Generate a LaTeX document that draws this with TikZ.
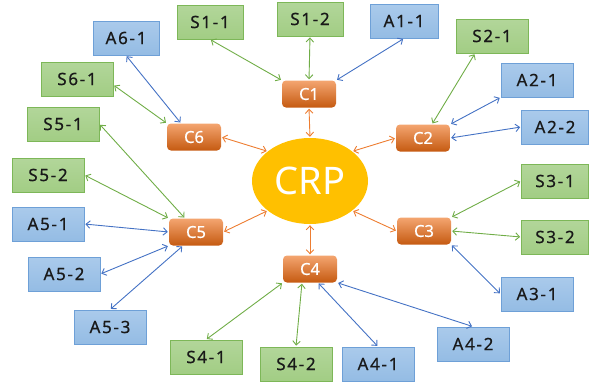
\documentclass[tikz,border=0pt]{standalone}
\usepackage{fontspec}
\setmainfont{Noto Sans}
\usetikzlibrary{arrows.meta,shapes.geometric}
\definecolor{sline}{RGB}{125,183,88}
\definecolor{stop}{RGB}{178,214,154}
\definecolor{sbot}{RGB}{162,205,132}
\definecolor{aline}{RGB}{110,160,215}
\definecolor{atop}{RGB}{170,202,235}
\definecolor{abot}{RGB}{148,188,228}
\definecolor{ctop}{RGB}{244,165,112}
\definecolor{cbot}{RGB}{197,90,17}
\definecolor{crpfill}{RGB}{255,192,0}
\definecolor{sarrow}{RGB}{112,173,71}
\definecolor{aarrow}{RGB}{68,114,196}
\definecolor{carrow}{RGB}{237,125,49}

\begin{document}
\begin{tikzpicture}[x=1pt,y=-1pt,
   sbox/.style={draw=sline,line width=0.8pt,top color=stop,bottom color=sbot,
      minimum width=72pt,minimum height=34pt,inner sep=0pt,text=black!90,
      font=\fontsize{17}{20}\selectfont\addfontfeature{LetterSpace=10,FakeBold=0.5}},
   abox/.style={sbox,draw=aline,top color=atop,bottom color=abot},
   cbox/.style={rounded corners=4pt,top color=ctop,bottom color=cbot,text=white,
      minimum width=54pt,minimum height=27pt,inner sep=0pt,
      font=\fontsize{16.5}{18}\selectfont\addfontfeature{FakeBold=0.5}},
   link/.style={{Straight Barb[length=4pt,width=7.5pt]}-{Straight Barb[length=4pt,width=7.5pt]},
      line width=0.9pt,shorten <=1pt,shorten >=1pt},
   slink/.style={link,draw=sarrow},
   alink/.style={link,draw=aarrow},
   clink/.style={link,draw=carrow}]
\useasboundingbox (0,0) rectangle (589,381);
% centre
\node[ellipse,fill=crpfill,minimum width=116pt,minimum height=86pt,text=white,
   font=\fontsize{38}{40}\selectfont] (crp) at (310,181) {CRP};
\node[cbox] (c1) at (309,94) {C1};
\node[cbox] (c2) at (423,138) {C2};
\node[cbox] (c3) at (424,231) {C3};
\node[cbox] (c4) at (310,269) {C4};
\node[cbox] (c5) at (196,232) {C5};
\node[cbox] (c6) at (194,137) {C6};
% outer boxes
\node[sbox,minimum width=66pt] (s11) at (210,22) {S1-1};
\node[sbox,minimum width=66pt] (s12) at (310,19) {S1-2};
\node[abox,minimum width=68pt] (a11) at (404,21) {A1-1};
\node[sbox] (s21) at (492,36) {S2-1};
\node[abox] (a21) at (537,80) {A2-1};
\node[abox,minimum width=67pt] (a22) at (555,127) {A2-2};
\node[sbox,minimum width=67pt] (s31) at (555,181) {S3-1};
\node[sbox,minimum width=67pt] (s32) at (555,237) {S3-2};
\node[abox] (a31) at (537,294) {A3-1};
\node[abox] (a42) at (473,344) {A4-2};
\node[abox] (a41) at (378,364) {A4-1};
\node[sbox] (s42) at (296,364) {S4-2};
\node[sbox] (s41) at (206,357) {S4-1};
\node[abox] (a53) at (110,327) {A5-3};
\node[abox] (a52) at (64,274) {A5-2};
\node[abox] (a51) at (48,224) {A5-1};
\node[sbox] (s52) at (48,175) {S5-2};
\node[sbox] (s51) at (63,124) {S5-1};
\node[sbox] (s61) at (77,79) {S6-1};
\node[abox,minimum width=66pt] (a61) at (126,38) {A6-1};
% C to CRP
\draw[clink] (c1.south) -- (crp.north);
\draw[clink] (c2.west) -- (crp.35);
\draw[clink] (c3.west) -- (crp.-35);
\draw[clink] (c4.north) -- (crp.south);
\draw[clink] (c5.east) -- (crp.215);
\draw[clink] (c6.east) -- (crp.145);
% C1
\draw[slink] (s11.south) -- (c1.north west);
\draw[slink] (s12.south) -- (c1.north);
\draw[alink] (a11.south) -- (c1.north east);
% C2
\draw[slink] ([xshift=-17pt]s21.south) -- ([xshift=9pt]c2.north);
\draw[alink] (a21.south west) -- (c2.north east);
\draw[alink] (c2.east) -- (a22.west);
% C3
\draw[slink] (s31.west) -- (c3.north east);
\draw[slink] (c3.east) -- (s32.west);
\draw[alink] (c3.south east) -- (a31.west);
% C4
\draw[alink] (c4.south east) -- (a42.north);
\draw[alink] ([xshift=8pt]c4.south) -- (a41.north);
\draw[slink] ([xshift=-8pt]c4.south) -- (s42.north);
\draw[slink] (c4.south west) -- (s41.north);
% C5
\draw[alink] (a53.north) -- ([xshift=-13pt]c5.south);
\draw[alink] (a52.east) -- (c5.south west);
\draw[alink] (a51.east) -- (c5.west);
\draw[slink] (s52.east) -- (c5.north west);
\draw[slink] (s51.east) -- ([xshift=-11pt]c5.north);
% C6
\draw[slink] ([yshift=-6pt]s61.east) -- (c6.north west);
\draw[alink] (a61.south) -- ([xshift=-13pt]c6.north);
\end{tikzpicture}
\end{document}
